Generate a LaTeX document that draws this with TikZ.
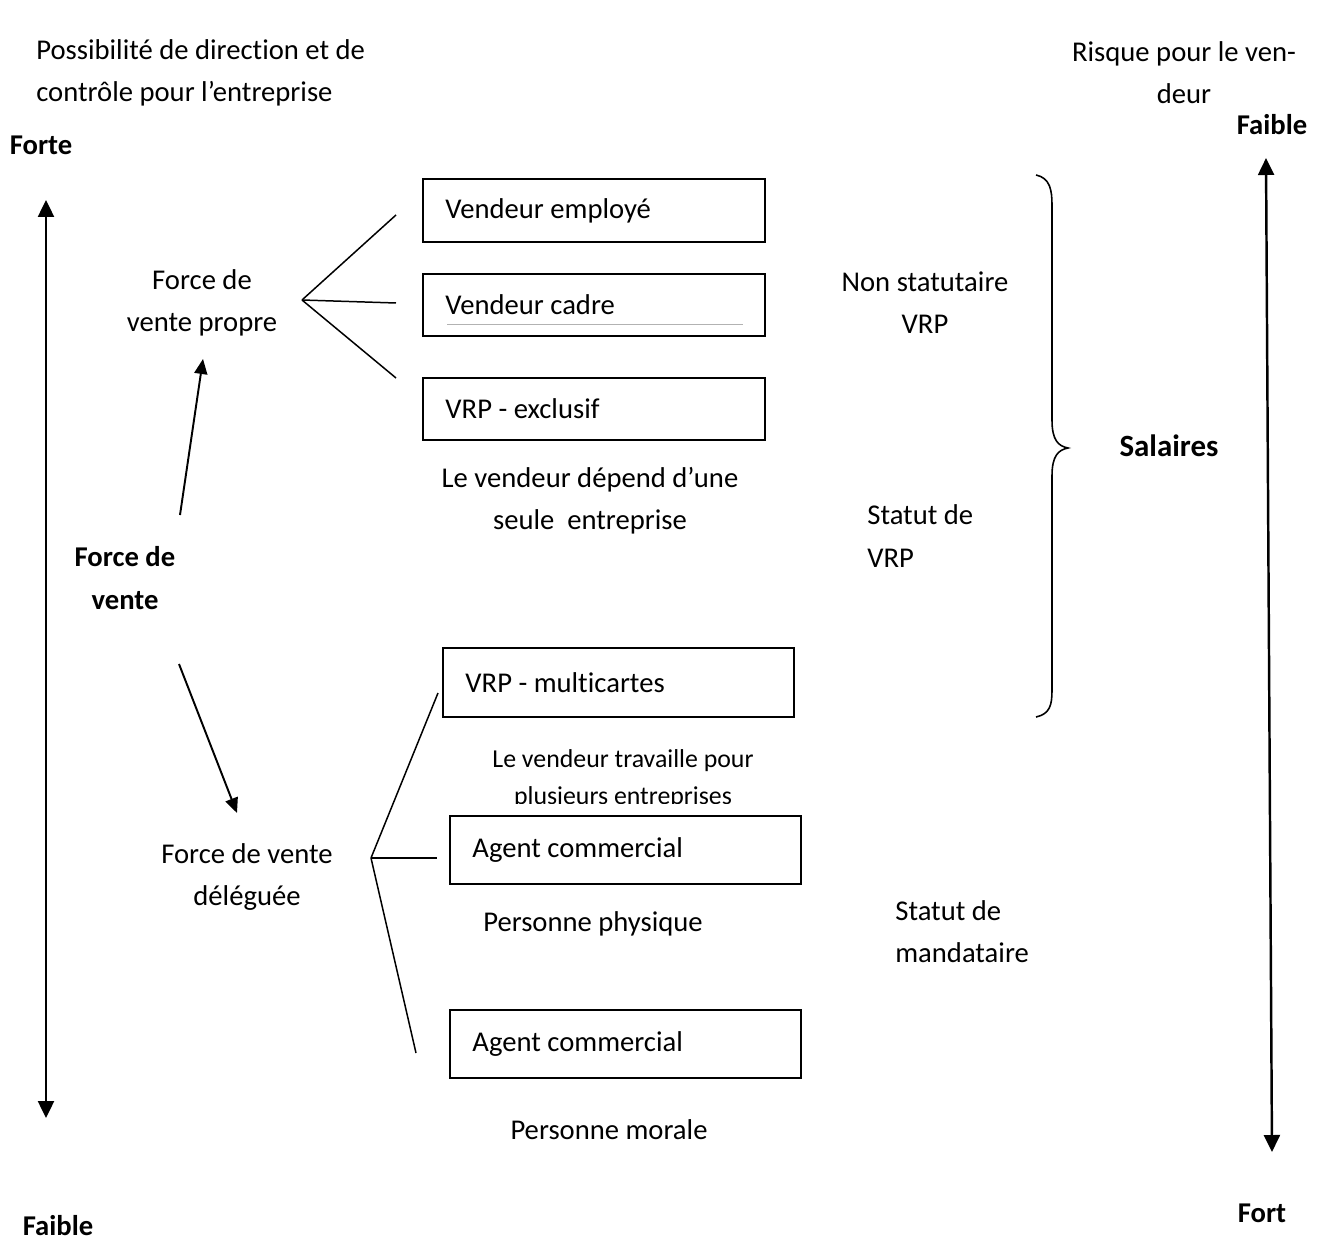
\documentclass[tikz,border=0pt]{standalone}
\usepackage{fontspec}
\setmainfont{Carlito}[Ligatures=NoCommon]
\usetikzlibrary{arrows.meta}

\tikzset{
  txt/.style={font=\fontsize{16.3}{24}\selectfont, align=center, inner sep=0pt},
  bold/.style={txt, font=\fontsize{16.3}{24}\selectfont\bfseries},
  small/.style={txt, font=\fontsize{14.7}{21.5}\selectfont},
  box/.style={draw, line width=1.1pt, anchor=north west, inner xsep=0.45cm, inner ysep=0pt,
    align=flush left, font=\fontsize{16.3}{24}\selectfont},
  axis/.style={line width=1.4pt, {Triangle[width=0.32cm,length=0.34cm]}-{Triangle[width=0.32cm,length=0.34cm]}},
  link/.style={line width=1.1pt, -{Triangle[width=0.26cm,length=0.3cm]}},
  branch/.style={line width=0.85pt},
}

\begin{document}
\begin{tikzpicture}[x=0.02cm, y=-0.02cm]
  \useasboundingbox (0,0) rectangle (1325,1243);

  % titres des axes
  \node[txt, align=flush left, anchor=west] (head1) at (36,73) {Possibilité de direction et de\\contrôle pour l’entreprise};
  \node[txt] (head2) at (1184,73) {Risque pour le ven-\\deur};
  \node[bold] (forte) at (41,145) {Forte};
  \node[bold] (faible1) at (58,1226) {Faible};
  \node[bold] (faible2) at (1272,125) {Faible};
  \node[bold] (fort) at (1262,1213) {Fort};

  \coordinate (l1) at (46,200);
  \coordinate (l2) at (46,1118);
  \coordinate (r1) at (1266,158);
  \coordinate (r2) at (1272,1152);
  \draw[axis] (l1) -- (l2);
  \draw[axis] (r1) -- (r2);

  % force de vente
  \node[bold] (fv) at (125,578) {Force de\\vente};
  \node[txt] (fvp) at (202,303) {Force de\\vente propre};
  \node[txt] (fvd) at (247,877) {Force de vente\\déléguée};
  \coordinate (a1) at (180,515);
  \coordinate (a2) at (203,359);
  \coordinate (a3) at (179,664);
  \coordinate (a4) at (237,813);
  \draw[link] (a1) -- (a2);
  \draw[link] (a3) -- (a4);

  % vendeurs
  \node[box, text width=5.94cm, minimum height=1.26cm] (emp) at (422,178) {Vendeur employé};
  \node[box, text width=5.94cm, minimum height=1.24cm] (cad) at (422,273) {Vendeur cadre};
  \node[box, text width=5.94cm, minimum height=1.24cm] (exc) at (422,377) {VRP - exclusif};
  \node[box, text width=6.12cm, minimum height=1.38cm] (mul) at (442,647) {VRP - multicartes};
  \node[box, text width=6.12cm, minimum height=1.36cm] (ag1) at (449,815) {Agent commercial};
  \node[box, text width=6.12cm, minimum height=1.36cm] (ag2) at (449,1009) {Agent commercial};
  \draw[gray!60, line width=0.4pt] (447,324) -- (743,324);

  \coordinate (b1) at (302,300);
  \coordinate (e1) at (396,215);
  \coordinate (e2) at (396,303);
  \coordinate (e3) at (396,378);
  \foreach \e in {e1,e2,e3}{
    \draw[branch] (b1) -- (\e);
  }
  \coordinate (b2) at (371,858);
  \coordinate (f1) at (438,693);
  \coordinate (f2) at (437,858);
  \coordinate (f3) at (416,1053);
  \foreach \f in {f1,f2,f3}{
    \draw[branch] (b2) -- (\f);
  }

  \node[txt] (seule) at (590,501) {Le vendeur dépend d’une\\seule\ \ entreprise};
  \begin{scope}
    \clip (400,735) rectangle (860,803);
    \node[small] (plus) at (623,779) {Le vendeur travaille pour\\plusieurs entreprises};
  \end{scope}
  \node[txt] (phys) at (593,924) {Personne physique};
  \node[txt] (mor) at (609,1130) {Personne morale};

  % statuts
  \node[txt] (nonstat) at (925,303) {Non statutaire\\VRP};
  \node[txt, align=flush left, anchor=west] (statvrp) at (867,536) {Statut de\\VRP};
  \node[txt, align=flush left, anchor=west] (statmand) at (895,932) {Statut de\\mandataire};

  \draw[line width=0.9pt] (1036,175) .. controls (1050,178) and (1052,190) .. (1052,205) -- (1052,420)
    .. controls (1052,440) and (1058,446) .. (1068,448)
    .. controls (1058,450) and (1052,456) .. (1052,476) -- (1052,690)
    .. controls (1052,705) and (1050,714) .. (1036,717);
  \node[txt, font=\fontsize{17.6}{24}\selectfont\bfseries] (sal) at (1169,446) {Salaires};
\end{tikzpicture}
\end{document}
